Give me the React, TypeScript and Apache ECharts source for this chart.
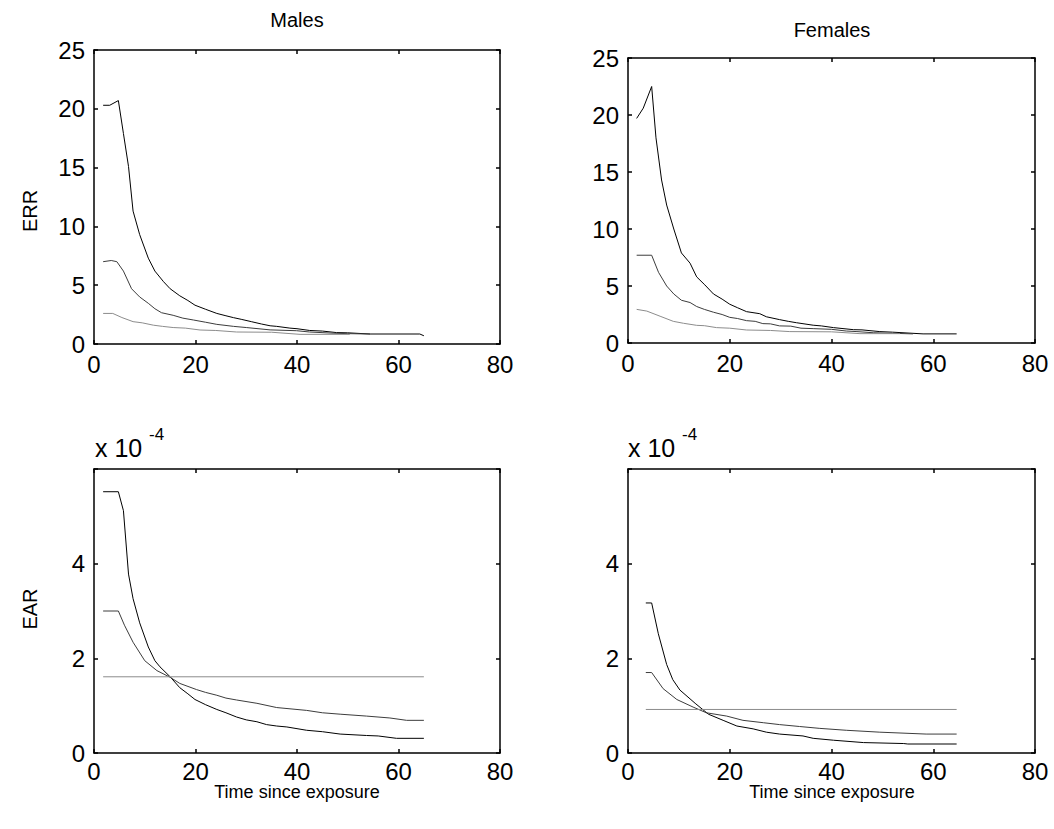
import React, { useEffect, useRef } from "react";
import * as echarts from "echarts";

const panelTitles = ["Males", "Females"];
const yAxisNames = ["ERR", "EAR"];
const xAxisName = "Time since exposure";
const earMultiplier = "x 10";
const earExponent = "-4";

// ERR (top row)
const maleErrHigh: number[][] = [
  [1.8, 20.3], [3.1, 20.3], [4.8, 20.7], [5.8, 17.9], [6.8, 15.1], [7.7, 11.3], [9, 9.3], [10.7, 7.3],
  [12, 6.2], [13.7, 5.3], [15, 4.7], [16.9, 4.1], [18.5, 3.7], [19.9, 3.3], [22, 2.95], [24.2, 2.6],
  [26, 2.4], [27.5, 2.24], [29, 2.1], [31, 1.9], [33, 1.7], [34.7, 1.55], [36, 1.5], [38.6, 1.35],
  [40, 1.3], [42.5, 1.15], [45, 1.1], [47.8, 0.97], [50, 0.95], [54.4, 0.85], [64.2, 0.85], [65, 0.7],
];
const maleErrMid: number[][] = [
  [1.8, 7.0], [3.4, 7.1], [4.5, 7.0], [5.8, 6.2], [7.4, 4.7], [9, 4.0], [10.7, 3.46], [12, 3.0],
  [13.3, 2.66], [15.6, 2.44], [17.5, 2.2], [19.6, 2.04], [22, 1.85], [24.2, 1.67], [27.5, 1.5],
  [30, 1.4], [34.7, 1.2], [39.9, 1.13], [42.5, 1.02], [47.1, 0.92], [50, 0.88], [54.4, 0.85],
];
const maleErrLow: number[][] = [
  [1.8, 2.6], [3.7, 2.6], [5.5, 2.25], [7.7, 1.9], [9.5, 1.8], [11.7, 1.6], [13.5, 1.5], [15.6, 1.4],
  [18, 1.35], [20.9, 1.19], [24, 1.15], [28.1, 1.02], [35, 1.0], [40.6, 0.82], [50.4, 0.82],
];
const femaleErrHigh: number[][] = [
  [1.7, 19.7], [3.0, 20.6], [4.65, 22.5], [5.5, 18], [6.6, 14.3], [7.6, 12.1], [9, 10], [10.5, 7.9],
  [12.2, 7.0], [13.5, 5.8], [15.1, 5.1], [16.8, 4.3], [18.5, 3.85], [20, 3.4], [21.5, 3.1], [23.3, 2.75],
  [25.9, 2.57], [27.2, 2.3], [29.8, 2.05], [31.5, 1.9], [33.1, 1.78], [36.4, 1.56], [38, 1.5],
  [40.4, 1.35], [44.3, 1.17], [46, 1.15], [49.5, 1.0], [52, 0.95], [58, 0.8], [64.6, 0.8],
];
const femaleErrMid: number[][] = [
  [1.7, 7.7], [4.65, 7.7], [6, 6.2], [7.6, 5.0], [9, 4.3], [10.5, 3.75], [12.2, 3.55], [13.5, 3.2],
  [15, 2.95], [16.8, 2.7], [18.5, 2.5], [20, 2.25], [21.5, 2.15], [23.3, 1.96], [25, 1.9], [26.5, 1.7],
  [28, 1.68], [29.8, 1.5], [32, 1.48], [34, 1.3], [36.4, 1.26], [40, 1.2], [42.9, 1.05], [45, 1.0],
  [48.2, 0.9], [52, 0.85], [56, 0.8],
];
const femaleErrLow: number[][] = [
  [1.7, 2.95], [3.7, 2.8], [6.3, 2.35], [8.9, 1.9], [10.9, 1.73], [13.5, 1.55], [15, 1.52], [17.4, 1.35],
  [20, 1.3], [23.3, 1.14], [28, 1.1], [31.8, 1.0], [40, 0.98], [45.6, 0.82], [53.5, 0.82],
];

// EAR (bottom row), in units of 1e-4
const maleEarHigh: number[][] = [
  [1.8, 5.52], [4.8, 5.52], [5.8, 5.12], [6.8, 3.78], [7.7, 3.26], [9, 2.75], [10.7, 2.24], [12, 1.95],
  [13, 1.82], [15, 1.61], [16.9, 1.38], [18.5, 1.25], [19.9, 1.13], [22, 1.02], [24.2, 0.92], [26, 0.85],
  [28.1, 0.76], [30, 0.7], [32.1, 0.66], [34, 0.6], [36, 0.57], [38, 0.55], [41.9, 0.48], [45, 0.45],
  [48.5, 0.4], [53.7, 0.37], [56, 0.36], [59.6, 0.31], [65, 0.31],
];
const maleEarMid: number[][] = [
  [1.8, 3.0], [4.8, 3.0], [6, 2.7], [7.7, 2.34], [10, 1.95], [12.4, 1.74], [15, 1.6], [16.9, 1.47],
  [20.2, 1.34], [22, 1.28], [24.2, 1.22], [26, 1.16], [28.1, 1.12], [32.1, 1.05], [36, 0.96],
  [41.9, 0.9], [45, 0.85], [48.5, 0.82], [53.7, 0.78], [58.3, 0.74], [61.6, 0.69], [65, 0.69],
];
const maleEarLow: number[][] = [[1.8, 1.61], [65, 1.61]];
const femaleEarHigh: number[][] = [
  [3.5, 3.17], [4.65, 3.17], [5.96, 2.52], [7.6, 1.87], [8.8, 1.55], [10.2, 1.33], [13.2, 1.05],
  [15.8, 0.82], [18.7, 0.69], [21.4, 0.57], [24.6, 0.51], [27.2, 0.44], [29.8, 0.4], [34.4, 0.36],
  [36.4, 0.31], [40.4, 0.27], [46.3, 0.22], [54.2, 0.2], [55, 0.19], [64.6, 0.19],
];
const femaleEarMid: number[][] = [
  [3.5, 1.7], [4.65, 1.7], [6.9, 1.36], [9.6, 1.13], [12.8, 0.97], [15.4, 0.85], [19.4, 0.78],
  [22.6, 0.69], [26.6, 0.64], [29.8, 0.6], [33.7, 0.56], [37.7, 0.52], [42.9, 0.48], [49.5, 0.44],
  [58.6, 0.4], [64.6, 0.4],
];
const femaleEarLow: number[][] = [[3.5, 0.92], [64.6, 0.92]];

const panelSeries = [
  [maleErrHigh, maleErrMid, maleErrLow],
  [femaleErrHigh, femaleErrMid, femaleErrLow],
  [maleEarHigh, maleEarMid, maleEarLow],
  [femaleEarHigh, femaleEarMid, femaleEarLow],
];

const FONT = "'Liberation Sans', Arial, Helvetica, sans-serif";
const lineColors = ["#000000", "#3c3c3c", "#8c8c8c"];

const grids = [
  { left: 94, top: 50, width: 406, height: 294 },
  { left: 628, top: 58, width: 407, height: 285 },
  { left: 94, top: 469, width: 406, height: 284 },
  { left: 628, top: 469, width: 407, height: 284 },
];

export default function App() {
  const ref = useRef<HTMLDivElement>(null);
  useEffect(() => {
    if (!ref.current) return;
    const chart = echarts.init(ref.current, undefined, { renderer: "svg" });

    const xAxes: any[] = [];
    const yAxes: any[] = [];
    const series: any[] = [];
    const axisLine = { show: true, onZero: false, lineStyle: { color: "#000", width: 1.5 } };
    const tick = { show: true, inside: true, length: 4, lineStyle: { color: "#000", width: 1.5 } };

    grids.forEach((g, i) => {
      const isErr = i < 2;
      const yMin = 0;
      const yMax = isErr ? 25 : 6;
      const yInt = isErr ? 5 : 2;
      xAxes.push({
        type: "value", gridIndex: i, position: "bottom", min: 0, max: 80, interval: 20,
        axisLine, axisTick: tick, splitLine: { show: false },
        axisLabel: { show: true, margin: isErr ? 8 : 6, color: "#000", fontSize: 24, fontFamily: FONT },
      });
      xAxes.push({
        type: "value", gridIndex: i, position: "top", min: 0, max: 80, interval: 20,
        axisLine, axisTick: tick, splitLine: { show: false }, axisLabel: { show: false },
      });
      yAxes.push({
        type: "value", gridIndex: i, position: "left", min: yMin, max: yMax, interval: yInt,
        axisLine, axisTick: tick, splitLine: { show: false },
        axisLabel: {
          show: true, margin: 9, color: "#000", fontSize: 24, fontFamily: FONT,
          formatter: (v: number) => (!isErr && v === 6 ? "" : String(v)),
        },
      });
      yAxes.push({
        type: "value", gridIndex: i, position: "right", min: yMin, max: yMax, interval: yInt,
        axisLine, axisTick: tick, splitLine: { show: false }, axisLabel: { show: false },
      });
      panelSeries[i].forEach((d, k) => {
        series.push({
          type: "line", xAxisIndex: i * 2, yAxisIndex: i * 2, data: d,
          showSymbol: false, symbol: "none", silent: true,
          lineStyle: { color: lineColors[k], width: 1 },
        });
      });
    });

    const txt = (text: string, x: number, y: number, size: number, extra: any = {}) => ({
      type: "text", x, y, silent: true, ...extra,
      style: { text, fill: "#000", fontSize: size, fontFamily: FONT, align: "center", verticalAlign: "middle" },
    });

    const graphic: any[] = [
      txt(panelTitles[0], 297, 20, 20),
      txt(panelTitles[1], 832, 30, 20),
      txt(yAxisNames[0], 30, 211, 20, { rotation: Math.PI / 2 }),
      txt(yAxisNames[1], 30, 609, 20, { rotation: Math.PI / 2 }),
      txt(xAxisName, 297, 792, 18),
      txt(xAxisName, 832, 792, 18),
      {
        type: "text", x: 95, y: 448, silent: true,
        style: { text: earMultiplier, fill: "#000", fontSize: 25, fontFamily: FONT, align: "left", verticalAlign: "middle" },
      },
      {
        type: "text", x: 149, y: 434, silent: true,
        style: { text: earExponent, fill: "#000", fontSize: 17, fontFamily: FONT, align: "left", verticalAlign: "middle" },
      },
      {
        type: "text", x: 628, y: 448, silent: true,
        style: { text: earMultiplier, fill: "#000", fontSize: 25, fontFamily: FONT, align: "left", verticalAlign: "middle" },
      },
      {
        type: "text", x: 682, y: 434, silent: true,
        style: { text: earExponent, fill: "#000", fontSize: 17, fontFamily: FONT, align: "left", verticalAlign: "middle" },
      },
    ];

    chart.setOption({
      animation: false,
      backgroundColor: "#ffffff",
      grid: grids.map((g) => ({ ...g, containLabel: false })),
      xAxis: xAxes,
      yAxis: yAxes,
      series,
      graphic,
    });
    return () => chart.dispose();
  }, []);
  return (
    <div
      ref={ref}
      style={{ position: "fixed", left: 0, top: 0, width: 1054, height: 829, background: "#fff" }}
    />
  );
}
